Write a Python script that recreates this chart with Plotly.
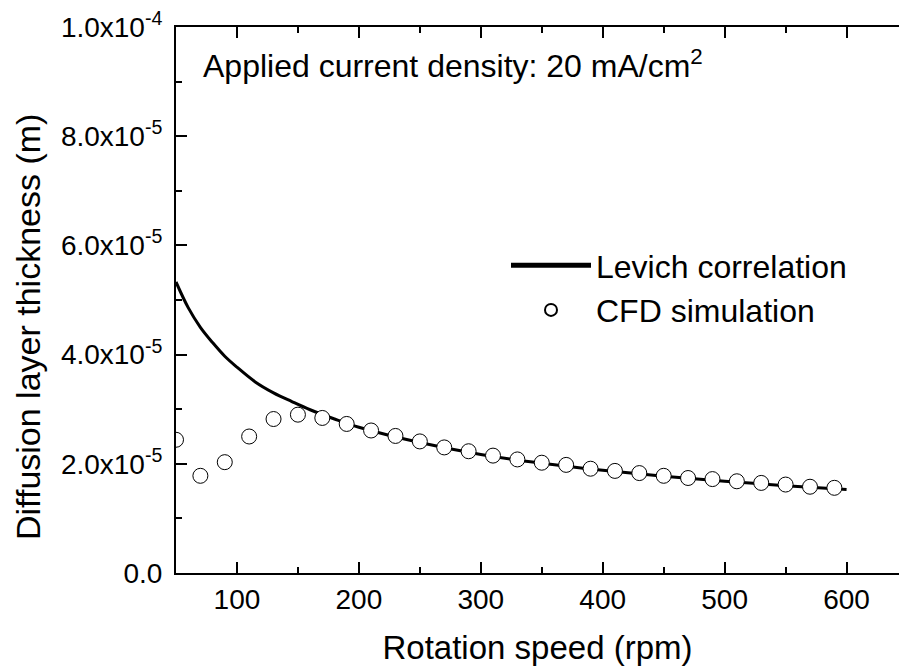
import plotly.graph_objects as go

# Levich correlation
levich_rpm = [50, 60, 70, 80, 90, 100, 115, 130, 145, 160, 180, 200, 250, 300, 350, 400, 450, 500, 550, 600]
levich_delta = [5.33e-5, 4.86e-5, 4.50e-5, 4.22e-5, 3.97e-5, 3.77e-5, 3.50e-5, 3.30e-5, 3.14e-5, 2.99e-5,
                2.82e-5, 2.67e-5, 2.39e-5, 2.17e-5, 2.01e-5, 1.88e-5, 1.77e-5, 1.68e-5, 1.60e-5, 1.53e-5]

# CFD simulation
cfd_rpm = [50, 70, 90, 110, 130, 150, 170, 190, 210, 230, 250, 270, 290, 310, 330, 350, 370, 390,
           410, 430, 450, 470, 490, 510, 530, 550, 570, 590]
cfd_delta = [2.44e-5, 1.78e-5, 2.03e-5, 2.50e-5, 2.82e-5, 2.90e-5, 2.84e-5, 2.73e-5, 2.61e-5, 2.51e-5,
             2.41e-5, 2.30e-5, 2.23e-5, 2.15e-5, 2.08e-5, 2.02e-5, 1.98e-5, 1.91e-5, 1.87e-5, 1.83e-5,
             1.78e-5, 1.74e-5, 1.72e-5, 1.68e-5, 1.65e-5, 1.62e-5, 1.58e-5, 1.56e-5]

x_ticks = [100, 200, 300, 400, 500, 600]
y_ticks = [0, 2e-5, 4e-5, 6e-5, 8e-5, 1e-4]
y_ticktext = ["0.0", "2.0x10<sup>-5</sup>", "4.0x10<sup>-5</sup>", "6.0x10<sup>-5</sup>",
              "8.0x10<sup>-5</sup>", "1.0x10<sup>-4</sup>"]

FONT = "Liberation Sans, Arial, sans-serif"
W, H = 900, 666
# plot area in pixels
L, R, T, B = 176, 899, 27, 573

def px(x):
    return (x - L) / (R - L)

def py(y):
    return (B - y) / (B - T)

fig = go.Figure()
fig.add_trace(go.Scatter(
    x=levich_rpm, y=levich_delta, mode="lines", name="Levich correlation",
    line=dict(color="black", width=3, shape="spline", smoothing=1.0),
))
fig.add_trace(go.Scatter(
    x=cfd_rpm, y=cfd_delta, mode="markers", name="CFD simulation",
    marker=dict(symbol="circle", size=15, color="white", line=dict(color="black", width=1)),
))

axis_common = dict(
    showline=True, linecolor="black", linewidth=2,
    ticks="inside", ticklen=11, tickwidth=2, tickcolor="black",
    showgrid=False, zeroline=False,
    tickfont=dict(family=FONT, size=28, color="black"),
)

fig.update_xaxes(
    range=[50, 643], tickvals=x_ticks, mirror="ticks",
    minor=dict(ticks="inside", ticklen=6, tickwidth=2, tickcolor="black", dtick=50, tick0=50, showgrid=False),
    title=dict(text="Rotation speed (rpm)", font=dict(family=FONT, size=33, color="black"), standoff=24),
    **axis_common,
)
fig.update_yaxes(
    range=[0, 1e-4], tickvals=y_ticks, ticktext=y_ticktext, mirror=False,
    minor=dict(ticks="inside", ticklen=6, tickwidth=2, tickcolor="black", dtick=1e-5, tick0=0, showgrid=False),
    ticklabelstandoff=6, ticklabeloverflow="allow",
    **axis_common,
)

# y-axis title (placed as rotated text to match the reference position)
fig.add_annotation(
    x=px(28), y=py(327), xref="paper", yref="paper", xanchor="center", yanchor="middle",
    text="Diffusion layer thickness (m)", textangle=-90, showarrow=False,
    font=dict(family=FONT, size=34, color="black"),
)

fig.add_annotation(
    x=px(201), y=py(64), xref="paper", yref="paper", xanchor="left", yanchor="middle",
    text="Applied current density: 20 mA/cm<sup>2</sup>", showarrow=False,
    font=dict(family=FONT, size=32, color="black"),
)

fig.update_layout(
    width=W, height=H,
    margin=dict(l=L, r=W - R, t=T, b=H - B),
    paper_bgcolor="white", plot_bgcolor="white",
    showlegend=True,
    legend=dict(
        x=px(506), y=py(238), xanchor="left", yanchor="top",
        font=dict(family=FONT, size=32, color="black"),
        bgcolor="rgba(0,0,0,0)", itemwidth=80, tracegroupgap=0,
        itemsizing="constant",
    ),
)

fig.write_html(
    "out.html",
    config={"displayModeBar": False},
    post_script="document.body.style.margin='0';document.body.style.overflow='hidden';"
                "document.documentElement.style.overflow='hidden';",
)
